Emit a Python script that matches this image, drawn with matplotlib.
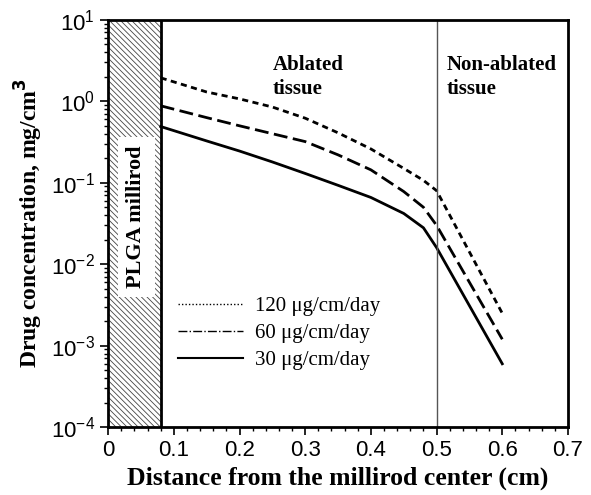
import matplotlib
matplotlib.use("Agg")
import matplotlib.pyplot as plt
from matplotlib.lines import Line2D
from matplotlib.ticker import MultipleLocator, LogLocator, NullFormatter

x = [0.08, 0.15, 0.2, 0.25, 0.3, 0.35, 0.4, 0.45, 0.48, 0.5, 0.6]
c120 = [1.94, 1.30, 1.07, 0.85, 0.62, 0.41, 0.26, 0.15, 0.107, 0.08, 0.0025]
c60 = [0.88, 0.63, 0.50, 0.40, 0.32, 0.22, 0.144, 0.078, 0.05, 0.03, 0.0012]
c30 = [0.49, 0.326, 0.245, 0.18, 0.13, 0.093, 0.066, 0.042, 0.028, 0.016, 0.0006]
labels = ["120 μg/cm/day", "60 μg/cm/day", "30 μg/cm/day"]

serif = "Liberation Serif"
sans = "Liberation Sans"
plt.rcParams["hatch.linewidth"] = 0.6

fig = plt.figure(figsize=(5.91, 4.95), dpi=100)
ax = fig.add_axes([0.183, 0.137, 0.778, 0.823])

ax.plot(x, c120, color="black", lw=2, linestyle=(0, (2.2, 1.6)))
ax.plot(x, c60, color="black", lw=2, linestyle=(0, (5, 2)))
ax.plot(x, c30, color="black", lw=2, linestyle="-")

# millirod region
ax.axvspan(0, 0.08, facecolor="white", edgecolor="#444444", hatch="\\\\\\\\\\\\", lw=0)
ax.axvline(0.08, color="black", lw=2)
ax.axvline(0.5, color="#555555", lw=1)
ax.text(0.043, 0.038, "PLGA millirod", rotation=90, ha="center", va="center",
        fontfamily=serif, fontweight="bold", fontsize=16,
        bbox=dict(facecolor="white", edgecolor="none", pad=6))

ax.text(0.251, 2.0, "Ablated\ntissue", fontfamily=serif, fontweight="bold",
        fontsize=15, ha="left", va="center", linespacing=1.25)
ax.text(0.516, 2.0, "Non-ablated\ntissue", fontfamily=serif, fontweight="bold",
        fontsize=15, ha="left", va="center", linespacing=1.25)

ax.set_yscale("log")
ax.set_xlim(0, 0.7)
ax.set_ylim(1e-4, 10)
ax.xaxis.set_minor_locator(MultipleLocator(0.02))
ax.yaxis.set_major_locator(LogLocator(base=10, numticks=10))
ax.yaxis.set_minor_locator(LogLocator(base=10, subs=range(2, 10), numticks=50))
ax.yaxis.set_minor_formatter(NullFormatter())
ax.set_xticks([0, 0.1, 0.2, 0.3, 0.4, 0.5, 0.6, 0.7])
ax.set_xticklabels(["0", "0.1", "0.2", "0.3", "0.4", "0.5", "0.6", "0.7"])
ax.tick_params(which="major", direction="out", length=6, width=1.2, labelsize=16)
ax.tick_params(which="minor", direction="out", length=3, width=1)
for lab in ax.get_xticklabels() + ax.get_yticklabels():
    lab.set_fontfamily(sans)
for s in ax.spines.values():
    s.set_linewidth(2)

ax.set_xlabel("Distance from the millirod center (cm)", fontfamily=serif,
              fontweight="bold", fontsize=18.5)
ax.set_ylabel("Drug concentration, mg/cm$^\\mathbf{3}$", fontfamily=serif,
              fontweight="bold", fontsize=17)

handles = [Line2D([], [], color="black", lw=1, linestyle=(0, (1, 1.5))),
           Line2D([], [], color="black", lw=1, linestyle="-."),
           Line2D([], [], color="black", lw=1.5, linestyle="-")]
leg = ax.legend(handles, labels, loc="lower left", bbox_to_anchor=(0.152, 0.14),
                frameon=False, handlelength=3.1, handletextpad=0.6,
                borderpad=0, borderaxespad=0,
                prop={"family": serif, "size": 15}, labelspacing=0.35)

fig.savefig("out.png", dpi=100)
